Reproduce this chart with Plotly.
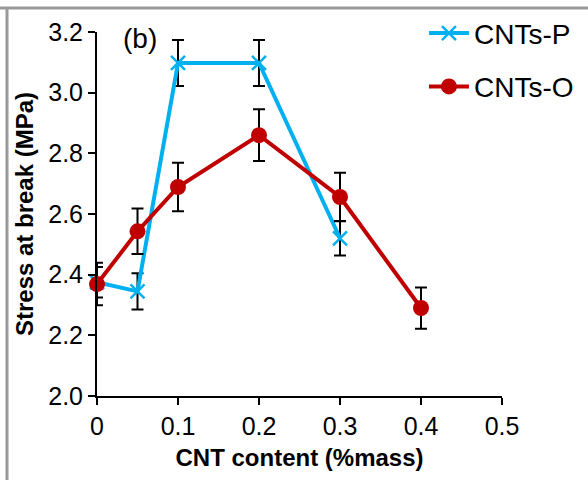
import plotly.graph_objects as go

x_p = [0, 0.05, 0.1, 0.2, 0.3]
y_p = [2.375, 2.345, 3.098, 3.098, 2.52]
e_p = [0.05, 0.06, 0.076, 0.076, 0.057]

x_o = [0, 0.05, 0.1, 0.2, 0.3, 0.4]
y_o = [2.369, 2.543, 2.689, 2.86, 2.656, 2.29]
e_o = [0.07, 0.075, 0.08, 0.085, 0.08, 0.068]

x_ticks = [0, 0.1, 0.2, 0.3, 0.4, 0.5]
x_ticklabels = ["0", "0.1", "0.2", "0.3", "0.4", "0.5"]
y_ticks = [2.0, 2.2, 2.4, 2.6, 2.8, 3.0, 3.2]

FONT = "Liberation Sans, Arial, sans-serif"

fig = go.Figure()
fig.add_trace(go.Scatter(
    x=x_p, y=y_p, name="CNTs-P", mode="lines+markers",
    line=dict(color="#00B0F0", width=4),
    marker=dict(symbol="x-thin", size=14, line=dict(color="#00B0F0", width=2.5), color="#00B0F0"),
    error_y=dict(type="data", array=e_p, color="black", thickness=2, width=6),
    cliponaxis=False, legendgroup="p",
))
fig.add_trace(go.Scatter(
    x=x_o, y=y_o, name="CNTs-O", mode="lines+markers",
    line=dict(color="#C00000", width=4),
    marker=dict(symbol="circle", size=16, color="#C00000"),
    error_y=dict(type="data", array=e_o, color="black", thickness=2, width=6),
    cliponaxis=False, legendgroup="o",
))

fig.update_layout(
    width=588, height=480,
    margin=dict(l=97, r=86, t=32, b=84, autoexpand=False),
    paper_bgcolor="white", plot_bgcolor="white",
    font=dict(family=FONT, size=25, color="black"),
    showlegend=True,
    legend=dict(x=1.19, xanchor="right", y=1.065, yanchor="top",
                bgcolor="rgba(0,0,0,0)", font=dict(size=28),
                tracegroupgap=14, traceorder="grouped", itemwidth=40),
    xaxis=dict(range=[0, 0.5], tickvals=x_ticks, ticktext=x_ticklabels,
               showgrid=False, zeroline=False, showline=True, linecolor="black", linewidth=2,
               ticks="outside", ticklen=7, tickwidth=2, tickcolor="black",
               tickfont=dict(size=25), automargin=False,
               title=dict(text="<b>CNT content (%mass)</b>", font=dict(size=24), standoff=10)),
    yaxis=dict(range=[2.0, 3.2], tickvals=y_ticks, tickformat=".1f",
               showgrid=False, zeroline=False, showline=True, linecolor="black", linewidth=2,
               ticks="outside", ticklen=7, tickwidth=2, tickcolor="black",
               tickfont=dict(size=25), automargin=False,
               title=dict(text="<b>Stress at break (MPa)</b>", font=dict(size=24), standoff=8)),
)

fig.add_annotation(text="(b)", xref="paper", yref="paper", x=0.06, y=1 - 6/364,
                   xanchor="left", yanchor="middle", showarrow=False, font=dict(size=28))

# gray frame of the source figure
fig.add_shape(type="line", xref="paper", yref="paper", x0=-97/405, x1=(588-97)/405 + 0.01,
              y0=1 + 24/364, y1=1 + 24/364, line=dict(color="#999999", width=3))
fig.add_shape(type="line", xref="paper", yref="paper", x0=-90/405, x1=-90/405,
              y0=1 + 24/364, y1=-84/364 - 0.01, line=dict(color="#999999", width=3))

fig.write_html("out.html")
